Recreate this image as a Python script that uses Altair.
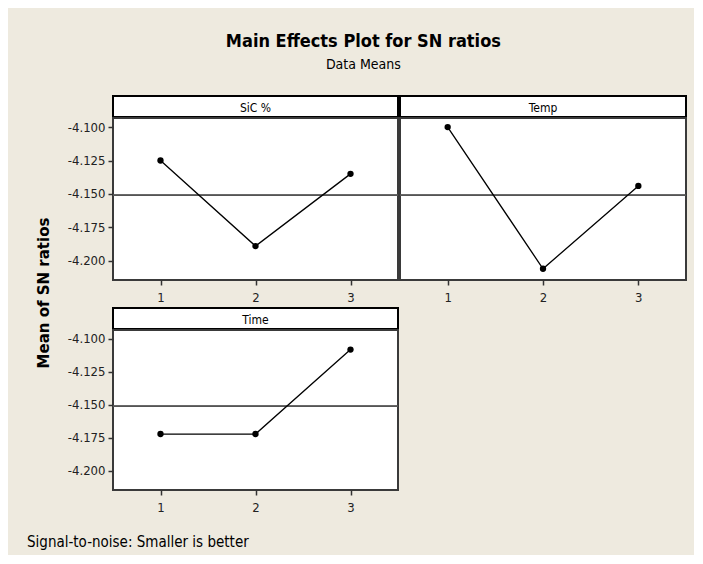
import altair as alt
import pandas as pd

# ---- data ----
levels = [1, 2, 3]
factors = ["SiC %", "Temp", "Time"]
sic_means = [-4.125, -4.189, -4.135]
temp_means = [-4.100, -4.206, -4.144]
time_means = [-4.172, -4.172, -4.108]
grand_mean = -4.151
y_ticks = [-4.100, -4.125, -4.150, -4.175, -4.200]
x_ticks = [1, 2, 3]

FONT = "DejaVu Sans Condensed, Liberation Sans, sans-serif"
BG = "#EEEADF"
Y_DOMAIN = [-4.2144, -4.0932]
SH = 21
LABEL_EXPR = "'-' + format(abs(datum.value), '.3f')"


def strip(name, w):
    df = pd.DataFrame({"f": [name]})
    return (
        alt.Chart(df)
        .mark_text(font=FONT, fontSize=12, color="black")
        .encode(text="f:N", x=alt.value(w / 2), y=alt.value(SH / 2 + 1))
        .properties(width=w, height=SH,
                    view=alt.ViewBackground(fill="white", stroke="black", strokeWidth=2))
    )


def panel(vals, w, h, show_y):
    df = pd.DataFrame({"level": levels, "mean": vals, "gm": [grand_mean] * 3})
    xenc = alt.X("level:Q",
                 scale=alt.Scale(domain=[0.5, 3.5], nice=False, zero=False),
                 axis=alt.Axis(values=x_ticks, format="d", title=None, domain=False,
                               grid=False, tickSize=5, tickWidth=1.5, tickColor="#333",
                               labelFont=FONT, labelFontSize=13, labelColor="#222",
                               labelPadding=6))
    if show_y:
        yaxis = alt.Axis(values=y_ticks, labelExpr=LABEL_EXPR, title=None, domain=False,
                         grid=False, tickSize=5, tickWidth=1.5, tickColor="#333",
                         labelFont=FONT, labelFontSize=13, labelColor="#222",
                         labelPadding=3)
    else:
        yaxis = None
    yscale = alt.Scale(domain=Y_DOMAIN, nice=False, zero=False)
    base = alt.Chart(df).encode(x=xenc, y=alt.Y("mean:Q", scale=yscale, axis=yaxis))
    line = base.mark_line(color="black", strokeWidth=1.3)
    pts = base.mark_circle(color="black", size=40, opacity=1)
    rule = alt.Chart(df).mark_rule(color="#555", strokeWidth=1.5).encode(
        y=alt.Y("gm:Q", scale=yscale, axis=yaxis))
    return alt.layer(rule, line, pts).properties(
        width=w, height=h,
        view=alt.ViewBackground(fill="white", stroke="#3a3a3a", strokeWidth=2))


def column(name, vals, w, h, show_y):
    return alt.vconcat(strip(name, w), panel(vals, w, h, show_y), spacing=-4)


row1 = alt.hconcat(column(factors[0], sic_means, 285, 162, True),
                   column(factors[1], temp_means, 286, 162, False), spacing=-4)
row2 = column(factors[2], time_means, 285, 160, True)
panels = alt.vconcat(row1, row2, spacing=2)

ytitle = (
    alt.Chart(pd.DataFrame({"t": ["Mean of SN ratios"]}))
    .mark_text(font="DejaVu Sans", fontSize=15, fontWeight="bold", angle=270, color="black")
    .encode(text="t:N", x=alt.value(17), y=alt.value(197))
    .properties(width=24, height=394)
)

footer = (
    alt.Chart(pd.DataFrame({"t": ["Signal-to-noise: Smaller is better"]}))
    .mark_text(font=FONT, fontSize=15, color="black", align="left")
    .encode(text="t:N", x=alt.value(0), y=alt.value(10))
    .properties(width=300, height=20)
)

chart = alt.vconcat(
    alt.hconcat(ytitle, panels, spacing=14),
    footer, spacing=17,
).properties(
    title=alt.TitleParams("Main Effects Plot for SN ratios", subtitle="Data Means",
                          anchor="middle", frame="bounds", font=FONT, fontSize=18,
                          fontWeight="bold", subtitleFont=FONT, subtitleFontSize=14,
                          subtitleColor="black", color="black", offset=23,
                          subtitlePadding=7, dx=6),
    background=BG,
    padding={"left": 19, "top": 25, "right": 6, "bottom": 3},
).configure_view(strokeWidth=0)

chart.save("out.html", embed_options={"renderer": "svg", "actions": False})
